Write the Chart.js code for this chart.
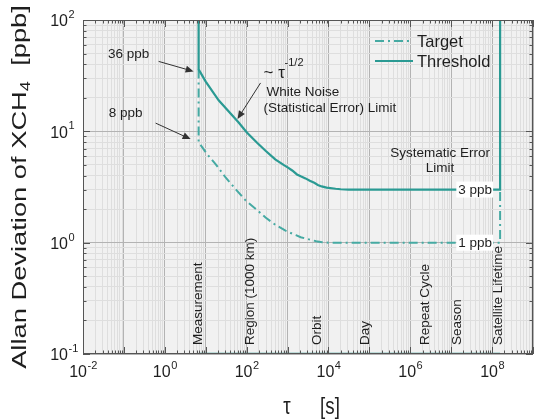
<!DOCTYPE html>
<html>
<head>
<meta charset="utf-8">
<script src="https://cdn.jsdelivr.net/npm/chart.js@4.4.1/dist/chart.umd.min.js"></script>
<style>
  html, body { margin: 0; padding: 0; background: #fff; }
</style>
</head>
<body>
<canvas id="allanChart" width="534" height="420"></canvas>
<script>
// values (tau in s, deviation in ppb)
const thresholdTau = [6.7, 6.7, 10, 20.7, 63.8, 100, 180, 290, 500, 800, 1050, 1300, 1700, 2100, 2750, 3500, 4500, 5500, 6800, 9000, 15000, 20000, 31000, 1.57e8, 1.57e8];
const thresholdVal = [100, 36, 28, 19, 12, 9.8, 7.9, 6.7, 5.6, 5.0, 4.7, 4.45, 4.1, 3.95, 3.78, 3.6, 3.45, 3.3, 3.2, 3.12, 3.05, 3.02, 3.0, 3.0, 100];
const targetTau = [6.7, 6.7, 10.6, 18, 30.6, 55, 95, 170, 290, 500, 890, 1200, 1600, 2100, 2750, 3700, 5000, 7000, 10000, 1.57e8, 1.57e8];
const targetVal = [36, 8, 6.3, 5.0, 3.85, 3.0, 2.39, 2.0, 1.68, 1.45, 1.28, 1.22, 1.17, 1.12, 1.09, 1.06, 1.03, 1.01, 1.0, 1.0, 3.0];
const floorTau = [6.7, 1.57e8];
const floorVal = [0.1, 0.1];

// time scales marked along the bottom
const eventNames = ['Measurement', 'Region (1000 km)', 'Orbit', 'Day', 'Repeat Cycle', 'Season', 'Satellite Lifetime'];
const eventTau = [6.4, 126, 5400, 8e4, 2.3e6, 1.4e7, 1.4e8];

// decade exponents that get a label
const xTickExps = [-2, 0, 2, 4, 6, 8];
const yTickExps = [-1, 0, 1, 2];

const FONT = '"Liberation Sans", Arial, sans-serif';
const TEAL = '#2a9a93';
const TEAL_LIGHT = '#46aaa3';
const INK = '#1e1e1e';

function logTicks(lo, hi) {
    const out = [];
    for (let e = lo; e < hi; e++) {
        for (let m = 1; m <= 9; m++) out.push({ value: m * Math.pow(10, e) });
    }
    out.push({ value: Math.pow(10, hi) });
    return out;
}

function isDecade(v) {
    const e = Math.log10(v);
    return Math.abs(e - Math.round(e)) < 1e-6;
}

const gridColor = (c) => isDecade(c.tick.value) ? '#b3b3b3' : '#dedede';

function toPts(xs, ys) {
    return xs.map((x, i) => ({ x: x, y: ys[i] }));
}

function drawArrow(ctx, x1, y1, x2, y2) {
    const a = Math.atan2(y2 - y1, x2 - x1);
    ctx.save();
    ctx.strokeStyle = '#333';
    ctx.fillStyle = '#333';
    ctx.lineWidth = 1;
    ctx.beginPath();
    ctx.moveTo(x1, y1);
    ctx.lineTo(x2 - 6 * Math.cos(a), y2 - 6 * Math.sin(a));
    ctx.stroke();
    ctx.beginPath();
    ctx.moveTo(x2, y2);
    ctx.lineTo(x2 - 8 * Math.cos(a) + 3.5 * Math.sin(a), y2 - 8 * Math.sin(a) - 3.5 * Math.cos(a));
    ctx.lineTo(x2 - 8 * Math.cos(a) - 3.5 * Math.sin(a), y2 - 8 * Math.sin(a) + 3.5 * Math.cos(a));
    ctx.closePath();
    ctx.fill();
    ctx.restore();
}

function drawPow(ctx, exp, x, y, mode) {
    const base = '10';
    const sup = String(exp);
    ctx.font = '16px ' + FONT;
    const wb = ctx.measureText(base).width;
    ctx.font = '11px ' + FONT;
    const ws = ctx.measureText(sup).width;
    const left = mode === 'center' ? x - (wb + ws) / 2 : x - wb;
    ctx.textAlign = 'left';
    ctx.textBaseline = 'middle';
    ctx.font = '16px ' + FONT;
    ctx.fillText(base, left, y);
    ctx.font = '11px ' + FONT;
    ctx.fillText(sup, left + wb + 0.5, y - 7);
}

// background, frame, inner tick marks, labels and notes
const decorations = {
    id: 'decorations',
    beforeDraw(chart) {
        const { ctx, chartArea: a } = chart;
        ctx.save();
        ctx.fillStyle = '#f1f1f1';
        ctx.fillRect(a.left, a.top, a.right - a.left, a.bottom - a.top);
        ctx.restore();
    },
    afterDatasetsDraw(chart) {
        const { ctx, chartArea: a } = chart;
        const sx = chart.scales.x, sy = chart.scales.y;
        const P = (t, v) => [sx.getPixelForValue(t), sy.getPixelForValue(v)];
        ctx.save();

        // frame
        ctx.strokeStyle = '#555';
        ctx.lineWidth = 1;
        ctx.strokeRect(a.left + 0.5, a.top + 0.5, a.right - a.left - 1, a.bottom - a.top - 1);

        // inner tick marks
        ctx.beginPath();
        sx.ticks.forEach(t => {
            const x = Math.round(sx.getPixelForValue(t.value)) + 0.5;
            const len = isDecade(t.value) ? 7 : 3.5;
            ctx.moveTo(x, a.bottom); ctx.lineTo(x, a.bottom - len);
            ctx.moveTo(x, a.top); ctx.lineTo(x, a.top + len);
        });
        sy.ticks.forEach(t => {
            const y = Math.round(sy.getPixelForValue(t.value)) + 0.5;
            const len = isDecade(t.value) ? 7 : 3.5;
            ctx.moveTo(a.left, y); ctx.lineTo(a.left + len, y);
            ctx.moveTo(a.right, y); ctx.lineTo(a.right - len, y);
        });
        ctx.stroke();

        // tick labels
        ctx.fillStyle = INK;
        xTickExps.forEach(e => drawPow(ctx, e, sx.getPixelForValue(Math.pow(10, e)), a.bottom + 19, 'center'));
        yTickExps.forEach(e => drawPow(ctx, e, a.left - 15, sy.getPixelForValue(Math.pow(10, e)) + 2, 'right'));

        // event labels, rotated
        ctx.font = '13.5px ' + FONT;
        ctx.textAlign = 'left';
        ctx.textBaseline = 'middle';
        eventNames.forEach((name, i) => {
            ctx.save();
            ctx.translate(sx.getPixelForValue(eventTau[i]), a.bottom - 9);
            ctx.rotate(-Math.PI / 2);
            ctx.fillText(name, 0, 0);
            ctx.restore();
        });

        // arrows with their notes
        const [ax, ay] = P(6.7, 36);
        drawArrow(ctx, ax - 40, ay - 8, ax - 5, ay + 2);
        const [bx, by] = P(6.7, 8);
        drawArrow(ctx, bx - 43, by - 19, bx - 8, by - 3);
        const [cx, cy] = P(60, 12.4);
        drawArrow(ctx, cx + 23, cy - 38, cx, cy - 2);

        ctx.fillStyle = INK;
        ctx.font = '13.5px ' + FONT;
        ctx.textAlign = 'center';
        ctx.fillText('36 ppb', ax - 70, ay - 15);
        ctx.fillText('8 ppb', bx - 73, by - 29);

        ctx.textAlign = 'left';
        ctx.fillText('White Noise', cx + 29, 92);
        ctx.fillText('(Statistical Error) Limit', cx + 26, 108);
        ctx.font = '17px ' + FONT;
        ctx.fillText('~ \u03c4', cx + 26, 73);
        ctx.font = '11px ' + FONT;
        ctx.fillText('-1/2', cx + 47, 63);

        const [sxp, syp] = P(1.57e8, 3);
        ctx.font = '13.5px ' + FONT;
        ctx.textAlign = 'center';
        ctx.fillText('Systematic Error', sxp - 60, syp - 36);
        ctx.fillText('Limit', sxp - 60, syp - 21);

        // level labels cut into the lines
        const levels = [['3 ppb', 3], ['1 ppb', 1]];
        ctx.textAlign = 'right';
        levels.forEach(([txt, v]) => {
            const [lx, ly] = P(1.57e8, v);
            const w = ctx.measureText(txt).width;
            ctx.fillStyle = '#fff';
            ctx.fillRect(lx - 10 - w, ly - 8, w + 3, 16);
            ctx.fillStyle = INK;
            ctx.fillText(txt, lx - 8, ly + 1);
        });

        // legend
        ctx.lineWidth = 2;
        ctx.strokeStyle = TEAL_LIGHT;
        ctx.setLineDash([9, 4, 2, 4]);
        ctx.beginPath(); ctx.moveTo(375, 41); ctx.lineTo(413, 41); ctx.stroke();
        ctx.setLineDash([]);
        ctx.strokeStyle = TEAL;
        ctx.lineWidth = 2.2;
        ctx.beginPath(); ctx.moveTo(375, 61); ctx.lineTo(413, 61); ctx.stroke();
        ctx.fillStyle = INK;
        ctx.font = '16.5px ' + FONT;
        ctx.textAlign = 'left';
        ctx.fillText('Target', 417, 42);
        ctx.fillText('Threshold', 417, 62);

        // axis titles
        ctx.save();
        ctx.translate(20, (a.top + a.bottom) / 2);
        ctx.rotate(-Math.PI / 2);
        ctx.scale(1.3, 1);
        ctx.font = '21px ' + FONT;
        const t1 = 'Allan Deviation of XCH', t2 = '4', t3 = '  [ppb]';
        const w1 = ctx.measureText(t1).width, w3 = ctx.measureText(t3).width;
        ctx.font = '14px ' + FONT;
        const w2 = ctx.measureText(t2).width;
        let x0 = -(w1 + w2 + w3) / 2;
        ctx.font = '21px ' + FONT;
        ctx.fillText(t1, x0, 0);
        ctx.font = '14px ' + FONT;
        ctx.fillText(t2, x0 + w1, 6);
        ctx.font = '21px ' + FONT;
        ctx.fillText(t3, x0 + w1 + w2, 0);
        ctx.restore();

        ctx.font = '24px ' + FONT;
        ctx.textAlign = 'center';
        ctx.save();
        ctx.translate(287, 407);
        ctx.scale(0.78, 1);
        ctx.fillText('\u03c4', 0, 0);
        ctx.restore();
        ctx.save();
        ctx.translate(330, 407);
        ctx.scale(0.78, 1);
        ctx.fillText('[s]', 0, 0);
        ctx.restore();

        ctx.restore();
    }
};

const ctx = document.getElementById('allanChart').getContext('2d');
new Chart(ctx, {
    type: 'line',
    data: {
        datasets: [
            {
                label: 'Threshold',
                data: toPts(thresholdTau, thresholdVal),
                borderColor: TEAL,
                borderWidth: 2.2,
                pointRadius: 0,
                tension: 0,
                order: 0
            },
            {
                label: 'Target',
                data: toPts(targetTau, targetVal),
                borderColor: TEAL_LIGHT,
                borderWidth: 2,
                borderDash: [9, 4, 2, 4],
                pointRadius: 0,
                tension: 0,
                order: 1
            },
            {
                label: 'floor',
                data: toPts(floorTau, floorVal),
                borderColor: TEAL,
                borderWidth: 2.5,
                pointRadius: 0,
                order: 2
            }
        ]
    },
    options: {
        responsive: false,
        animation: false,
        layout: { padding: { top: 20, right: 1, left: 0, bottom: 0 } },
        plugins: {
            legend: { display: false },
            tooltip: { enabled: false }
        },
        scales: {
            x: {
                type: 'logarithmic',
                min: 0.01,
                max: 1e9,
                afterBuildTicks: s => { s.ticks = logTicks(-2, 9); },
                afterFit: s => { s.height = 66; },
                grid: { color: gridColor, lineWidth: 1, drawTicks: false },
                border: { display: false },
                ticks: { display: false }
            },
            y: {
                type: 'logarithmic',
                min: 0.1,
                max: 100,
                afterBuildTicks: s => { s.ticks = logTicks(-1, 2); },
                afterFit: s => { s.width = 83; },
                grid: { color: gridColor, lineWidth: 1, drawTicks: false },
                border: { display: false },
                ticks: { display: false }
            }
        }
    },
    plugins: [decorations]
});
</script>
</body>
</html>
